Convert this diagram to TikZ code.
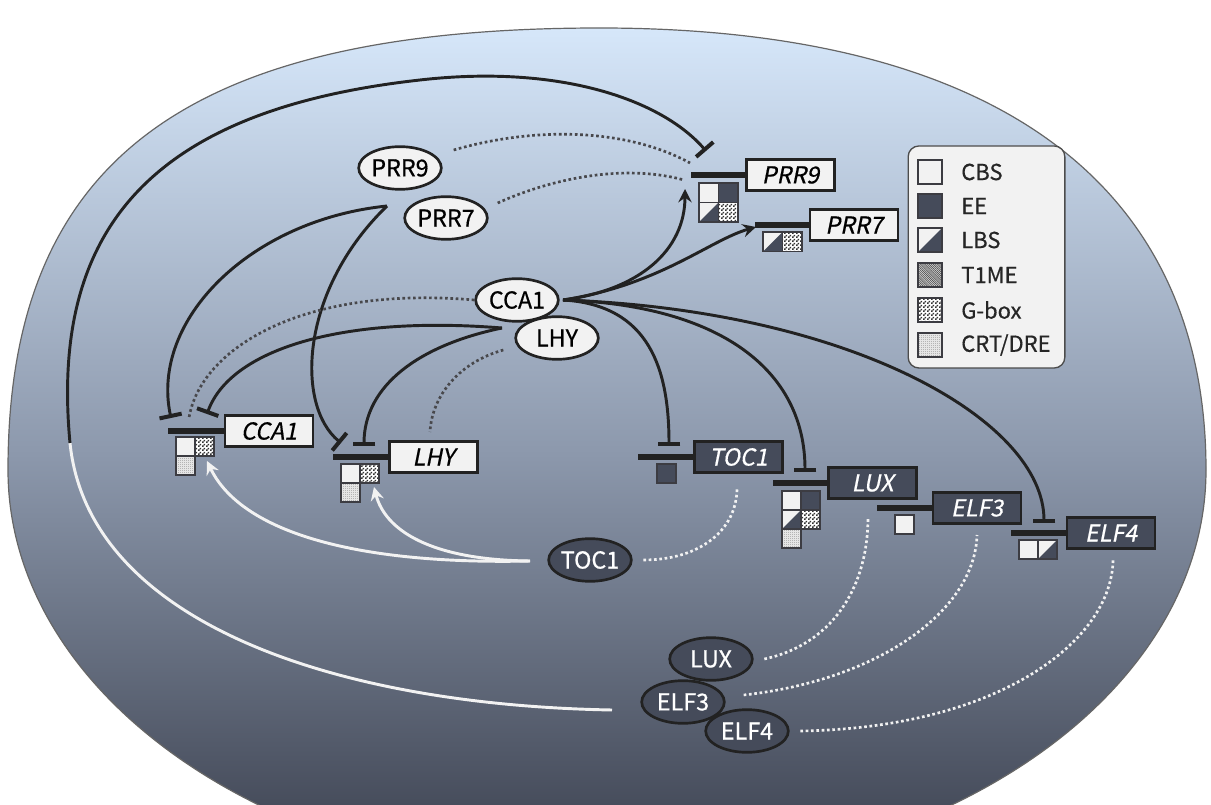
\documentclass[tikz,border=0pt]{standalone}
\usepackage{fontspec}
\setmainfont{Noto Sans CJK JP}[FakeBold=0.5]
\newfontfamily\lblfont[FakeBold=0.6]{Noto Sans CJK JP}
\newfontfamily\genefont[FakeSlant=0.2,FakeBold=0.6]{Noto Sans CJK JP}
\usetikzlibrary{arrows.meta,shapes.geometric,patterns}
\pgfdeclarepatternformonly{finecheck}{\pgfpointorigin}{\pgfqpoint{2.6pt}{2.6pt}}{\pgfqpoint{2.6pt}{2.6pt}}{%
  \pgfpathrectangle{\pgfpointorigin}{\pgfqpoint{1.3pt}{1.3pt}}%
  \pgfpathrectangle{\pgfqpoint{1.3pt}{1.3pt}}{\pgfqpoint{1.3pt}{1.3pt}}%
  \pgfusepath{fill}}
\pgfdeclarepatternformonly{finediag}{\pgfqpoint{-1pt}{-1pt}}{\pgfqpoint{3pt}{3pt}}{\pgfqpoint{1.6pt}{1.6pt}}{%
  \pgfsetlinewidth{0.45pt}%
  \pgfpathmoveto{\pgfqpoint{0pt}{1.6pt}}\pgfpathlineto{\pgfqpoint{1.6pt}{0pt}}%
  \pgfusepath{stroke}}
\pgfdeclarepatternformonly{finedots}{\pgfpointorigin}{\pgfqpoint{1.6pt}{1.6pt}}{\pgfqpoint{1.6pt}{1.6pt}}{%
  \pgfpathrectangle{\pgfpointorigin}{\pgfqpoint{0.7pt}{0.7pt}}%
  \pgfusepath{fill}}
\definecolor{darkc}{RGB}{69,75,90}
\definecolor{lightc}{RGB}{242,242,242}
\definecolor{linec}{RGB}{34,34,34}
\definecolor{dotc}{RGB}{72,72,76}
\definecolor{sitec}{RGB}{60,60,66}
\definecolor{bgtop}{RGB}{214,231,250}
\definecolor{bgmid}{RGB}{140,152,172}
\definecolor{bgbot}{RGB}{56,61,75}
\tikzset{
  prot/.style={ellipse, draw=linec, line width=2pt, inner sep=0pt,
    minimum width=62pt, minimum height=32pt, font=\lblfont\fontsize{17.5}{18}\selectfont},
  plight/.style={prot, fill=lightc, text=black},
  pdark/.style={prot, fill=darkc, text=white},
  gene/.style={rectangle, draw=linec, line width=2.2pt, inner sep=0pt,
    minimum width=66pt, minimum height=23pt, font=\genefont\fontsize{17.5}{18}\selectfont},
  glight/.style={gene, fill=lightc, text=black},
  gdark/.style={gene, fill=darkc, text=white},
  promo/.style={draw=linec, line width=3.8pt},
  inh/.style={draw=linec, line width=2.2pt, -{Bar[width=17pt,line width=3pt]}},
  act/.style={draw=linec, line width=2.2pt, -{Stealth[length=10pt,width=10pt,inset=3.5pt]}},
  wact/.style={draw=lightc, line width=2.2pt, -{Stealth[length=10pt,width=10pt,inset=3.5pt]}},
  wline/.style={draw=lightc, line width=2.2pt},
  dotd/.style={draw=dotc, line width=2pt, dash pattern=on 2pt off 2pt},
  dotw/.style={draw=lightc, line width=2pt, dash pattern=on 2pt off 2pt},
  sq/.style={draw=sitec, line width=0.9pt},
  legtext/.style={anchor=west, inner sep=0pt, font=\fontsize{16.5}{17}\selectfont, text=black!85},
  pics/cbs/.style={code={\draw[sq, fill=lightc] (0,0) rectangle (#1,#1);}},
  pics/ee/.style={code={\draw[sq, fill=darkc] (0,0) rectangle (#1,#1);}},
  pics/lbs/.style={code={\fill[lightc] (0,0) rectangle (#1,#1);
      \fill[darkc] (0,#1) -- (#1,0) -- (#1,#1) -- cycle;
      \draw[sq] (0,0) rectangle (#1,#1);}},
  pics/tme/.style={code={\fill[gray!30] (0,0) rectangle (#1,#1);
      \fill[pattern=finediag, pattern color=black!70] (0,0) rectangle (#1,#1);
      \draw[sq] (0,0) rectangle (#1,#1);}},
  pics/gbox/.style={code={\fill[white] (0,0) rectangle (#1,#1);
      \fill[pattern=finecheck, pattern color=black!80] (0,0) rectangle (#1,#1);
      \draw[sq] (0,0) rectangle (#1,#1);}},
  pics/crt/.style={code={\fill[gray!20] (0,0) rectangle (#1,#1);
      \fill[pattern=finedots, pattern color=black!55] (0,0) rectangle (#1,#1);
      \draw[sq] (0,0) rectangle (#1,#1);}},
}
\begin{document}
\begin{tikzpicture}[x=0.75pt,y=-0.75pt]
\useasboundingbox (0,0) rectangle (1211,805);
\clip (0,0) rectangle (1211,805);
\fill[white] (0,0) rectangle (1211,805);
% background oval
\def\oval{(8,470) .. controls (8,160.6) and (185.6,28) .. (600,28)
  .. controls (994,28) and (1206,183) .. (1206,470)
  .. controls (1206,696) and (940,880) .. (600,880)
  .. controls (273,880) and (8,696) .. (8,470) -- cycle}
\shade[top color=bgtop, bottom color=bgbot, middle color=bgmid] \oval;
\draw[black!60, line width=0.9pt] \oval;

% legend
\node[draw=black!70, line width=1pt, rounded corners=8pt, fill=lightc,
  minimum width=117.5pt, minimum height=166.5pt, inner sep=0pt] (legend) at (986.5,257) {};
\path (918,160) pic {cbs=24};
\path (918,194) pic {ee=24};
\path (918,228) pic {lbs=24};
\path (918,263) pic {tme=24};
\path (918,298) pic {gbox=24};
\path (918,333) pic {crt=24};
\node[legtext] (lcbs) at (961,172) {CBS};
\node[legtext] (lee) at (961,206) {EE};
\node[legtext] (llbs) at (961,240) {LBS};
\node[legtext] (ltme) at (961,275) {T1ME};
\node[legtext] (lgbox) at (961,310) {G-box};
\node[legtext] (lcrt) at (961,345) {CRT/DRE};

% genes
\node[glight] (gPRR9) at (790.5,175) {PRR9};
\node[glight] (gPRR7) at (854,225) {PRR7};
\node[glight] (gCCA1) at (269,431) {CCA1};
\node[glight] (gLHY) at (433.5,457) {LHY};
\node[gdark] (gTOC1) at (738.5,457) {TOC1};
\node[gdark] (gLUX) at (872.5,483) {LUX};
\node[gdark] (gELF3) at (977,508) {ELF3};
\node[gdark] (gELF4) at (1111,533) {ELF4};

\coordinate (bPRR9) at (691,175);
\coordinate (bPRR7) at (755,225);
\coordinate (bCCA1) at (168,431);
\coordinate (bLHY) at (333,457);
\coordinate (bTOC1) at (638,457);
\coordinate (bLUX) at (773,483);
\coordinate (bELF3) at (877,508);
\coordinate (bELF4) at (1011,533);
\draw[promo] (gPRR9.west) -- (bPRR9);
\draw[promo] (gPRR7.west) -- (bPRR7);
\draw[promo] (gCCA1.west) -- (bCCA1);
\draw[promo] (gLHY.west) -- (bLHY);
\draw[promo] (gTOC1.west) -- (bTOC1);
\draw[promo] (gLUX.west) -- (bLUX);
\draw[promo] (gELF3.west) -- (bELF3);
\draw[promo] (gELF4.west) -- (bELF4);

% binding sites
\path (699,183) pic {cbs=19.5};
\path (718.5,183) pic {ee=19.5};
\path (699,202.5) pic {lbs=19.5};
\path (718.5,202.5) pic {gbox=19.5};
\path (763,232) pic {lbs=19.5};
\path (782.5,232) pic {gbox=19.5};
\path (176,437) pic {cbs=19};
\path (195,437) pic {gbox=19};
\path (176,456) pic {crt=19};
\path (341,464) pic {cbs=19};
\path (360,464) pic {gbox=19};
\path (341,483) pic {crt=19};
\path (657,464) pic {ee=19};
\path (782,491) pic {cbs=19};
\path (801,491) pic {ee=19};
\path (782,510) pic {lbs=19};
\path (801,510) pic {gbox=19};
\path (782,529) pic {crt=19};
\path (895,515) pic {cbs=19};
\path (1019,540) pic {cbs=19};
\path (1038,540) pic {lbs=19};

% proteins
\node[plight] (pPRR9) at (400,168) {PRR9};
\node[plight] (pPRR7) at (446,218) {PRR7};
\node[plight] (pCCA1) at (517,300) {CCA1};
\node[plight] (pLHY) at (557,338) {LHY};
\node[pdark] (pTOC1) at (590,560) {TOC1};
\node[pdark] (pLUX) at (711,659) {LUX};
\node[pdark] (pELF3) at (683,702) {ELF3};
\node[pdark] (pELF4) at (747,731) {ELF4};

% connector end points
\coordinate (cca1o) at (563,300);
\coordinate (lhyo) at (502,328);
\coordinate (prro) at (387,206);
\coordinate (tocw) at (530,561);
\coordinate (elfo) at (612,710);
\coordinate (turn) at (70,443);
\coordinate (tPRR9) at (706,151);
\coordinate (aPRR9) at (685,189);
\coordinate (aPRR7) at (756,227);
\coordinate (tTOC1) at (669,446);
\coordinate (tLUX) at (805,472);
\coordinate (tELF4) at (1044,523);
\coordinate (tCCA1a) at (171,418);
\coordinate (tCCA1b) at (207,414);
\coordinate (tLHYa) at (341,443);
\coordinate (tLHYb) at (364,446);
\coordinate (aCCA1) at (207,461);
\coordinate (aLHY) at (374,487);

% ELF3 -| PRR9 (white then black)
\draw[wline] (elfo) .. controls (330,705) and (88,620) .. (turn);
\draw[inh] (turn) .. controls (50,230) and (150,110) .. (420,80)
  .. controls (560,64) and (662,100) .. (tPRR9);

% CCA1 outputs
\draw[act] (cca1o) .. controls (640,290) and (685,250) .. (aPRR9);
\draw[act] (cca1o) .. controls (660,285) and (710,240) .. (aPRR7);
\draw[inh] (cca1o) .. controls (650,305) and (669,370) .. (tTOC1);
\draw[inh] (cca1o) .. controls (720,305) and (805,370) .. (tLUX);
\draw[inh] (cca1o) .. controls (850,310) and (1044,420) .. (tELF4);

% PRR inhibitions
\draw[inh] (prro) .. controls (250,220) and (150,320) .. (tCCA1a);
\draw[inh] (prro) .. controls (300,290) and (295,405) .. (tLHYa);
% LHY inhibitions
\draw[inh] (lhyo) .. controls (340,315) and (230,350) .. (tCCA1b);
\draw[inh] (lhyo) .. controls (420,345) and (364,385) .. (tLHYb);

% dotted (translation)
\draw[dotd] ([shift={(11,-18)}]pPRR9.east) .. controls (540,125) and (630,130) .. (690,163);
\draw[dotd] ([shift={(9,-15)}]pPRR7.east) .. controls (560,175) and (630,165) .. (684,180);
\draw[dotd] (pCCA1.west) .. controls (300,285) and (200,350) .. (189,418);
\draw[dotd] ([shift={(-11,12)}]pLHY.west) .. controls (460,362) and (432,395) .. (430,432);

% TOC1 activations (white)
\draw[wact] (tocw) .. controls (350,565) and (240,530) .. (aCCA1);
\draw[wact] (tocw) .. controls (430,560) and (385,530) .. (aLHY);

% white dotted
\draw[dotw] ([xshift=8pt]pTOC1.east) .. controls (700,560) and (737,530) .. (737,488);
\draw[dotw] ([xshift=8pt]pLUX.east) .. controls (830,645) and (868,590) .. (868,517);
\draw[dotw] ([shift={(18,-7)}]pELF3.east) .. controls (880,680) and (975,610) .. (977,535);
\draw[dotw] ([xshift=8pt]pELF4.east) .. controls (1000,728) and (1112,640) .. (1113,560);
\end{tikzpicture}
\end{document}
